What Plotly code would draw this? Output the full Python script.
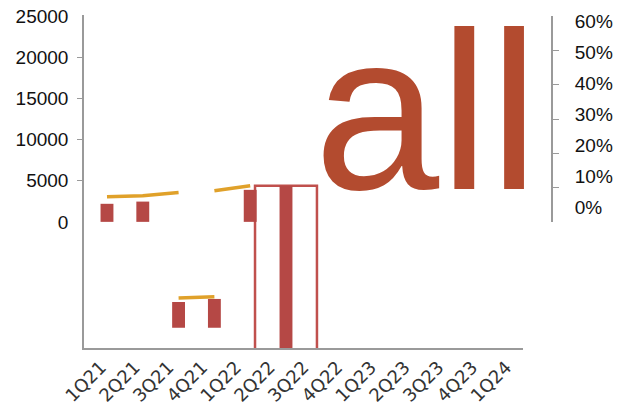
import plotly.graph_objects as go

quarters = ["1Q21", "2Q21", "3Q21", "4Q21", "1Q22", "2Q22", "3Q22", "4Q22",
            "1Q23", "2Q23", "3Q23", "4Q23", "1Q24"]

# floating bars: top and base values (left axis units)
bar_top = [2200, 2470, -9760, -9390, 3900, 4400, None, None, None, None, None, None, None]
bar_base = [0, 0, -12900, -12900, 0, -16000, None, None, None, None, None, None, None]

# outlined box behind 2Q22
box_top = [4400]
box_base = [-16000]
box_cat = ["2Q22"]

# orange line pieces (left axis units)
line_x = ["1Q21", "2Q21", "3Q21", None, "3Q21", "4Q21", None, "4Q21", "1Q22"]
line_y = [3050, 3170, 3580, None, -9270, -9110, None, 3780, 4390]

left_ticks = [0, 5000, 10000, 15000, 20000, 25000]
left_labels = ["0", "5000", "10000", "15000", "20000", "25000"]
left_marks = [5000, 10000, 15000, 20000]
right_ticks = [0, 0.1, 0.2, 0.3, 0.4, 0.5, 0.6]
right_labels = ["0%", "10%", "20%", "30%", "40%", "50%", "60%"]
right_marks = [0.1, 0.2, 0.3, 0.4, 0.5]

BAR = "#B54845"
BOX = "#C0504D"
ORANGE = "#E0A12A"
TEXT = "#B34B2F"
AX = "#9a9a9a"

bar_len = [None if t is None else t - b for t, b in zip(bar_top, bar_base)]
box_len = [t - b for t, b in zip(box_top, box_base)]

fig = go.Figure()
fig.add_trace(go.Bar(x=box_cat, y=box_len, base=box_base, xaxis="x2", yaxis="y",
                     width=1.73, marker=dict(color="white", line=dict(color=BOX, width=2.5)),
                     showlegend=False, hoverinfo="skip"))
fig.add_trace(go.Bar(x=quarters, y=bar_len, base=bar_base, xaxis="x2", yaxis="y",
                     width=0.36, marker=dict(color=BAR, line=dict(width=0)),
                     showlegend=False))
fig.add_trace(go.Scatter(x=line_x, y=line_y, xaxis="x2", yaxis="y", mode="lines",
                         line=dict(color=ORANGE, width=3.5), connectgaps=False,
                         showlegend=False))
# axis-only traces
fig.add_trace(go.Scatter(x=quarters, y=[None]*len(quarters), xaxis="x", yaxis="y",
                         showlegend=False, hoverinfo="skip"))
fig.add_trace(go.Scatter(x=["1Q21"], y=[None], xaxis="x", yaxis="y2", showlegend=False))
fig.add_trace(go.Scatter(x=["1Q21"], y=[None], xaxis="x", yaxis="y3", showlegend=False))
fig.add_trace(go.Scatter(x=["1Q21"], y=[None], xaxis="x", yaxis="y4", showlegend=False))

W = 623 - 84 - 71
H = 333

fig.update_layout(
    width=623, height=408,
    margin=dict(l=84, r=71, t=15, b=60, autoexpand=False),
    paper_bgcolor="white", plot_bgcolor="rgba(0,0,0,0)",
    barmode="overlay",
    xaxis=dict(domain=[0, (523 - 84) / W], type="category", categoryorder="array",
               categoryarray=quarters, range=[-0.5, 12.5],
               showline=True, linecolor=AX, linewidth=1.5, ticks="", tickangle=-45,
               tickfont=dict(family="DejaVu Sans", size=18, color="#333"),
               showgrid=False, zeroline=False, automargin=False, anchor="y"),
    xaxis2=dict(domain=[0, 1], type="category", categoryorder="array",
                categoryarray=quarters, range=[-0.642, 12.43],
                visible=False, anchor="y"),
    yaxis=dict(domain=[0, 1], range=[-15366, 25200], tickvals=left_ticks,
               ticktext=left_labels,
               showline=True, linecolor=AX, linewidth=1.5,
               ticks="outside", ticklen=6, tickcolor="rgba(0,0,0,0)", ticklabelstandoff=4,
               tickfont=dict(family="Liberation Sans, Arial", size=19, color="#111"),
               showgrid=False, zeroline=False, automargin=False, anchor="x"),
    yaxis4=dict(overlaying="y", range=[-15366, 25200], tickvals=left_marks,
                showticklabels=False, showline=False,
                ticks="outside", ticklen=6, tickcolor=AX, tickwidth=1.2,
                showgrid=False, zeroline=False, anchor="x", side="left"),
    yaxis2=dict(domain=[(348 - 222) / H, (348 - 16) / H], range=[0, 0.6],
                side="right", anchor="free", position=1,
                tickvals=right_marks, showticklabels=False,
                showline=True, linecolor=AX, linewidth=1.5,
                ticks="outside", ticklen=6, tickcolor=AX,
                showgrid=False, zeroline=False, automargin=False),
    yaxis3=dict(domain=[(348 - 208) / H, (348 - 21) / H], range=[-0.0005, 0.6005],
                side="right", anchor="free", position=1,
                tickvals=right_ticks, ticktext=right_labels,
                showline=False, ticks="outside", ticklen=18,
                tickcolor="rgba(0,0,0,0)",
                tickfont=dict(family="Liberation Sans, Arial", size=19, color="#111"),
                showgrid=False, zeroline=False, automargin=False),
    annotations=[dict(text="all", xref="paper", yref="paper",
                      x=(426 - 84) / W, y=(348 - 239) / H,
                      xanchor="center", yanchor="bottom", showarrow=False,
                      font=dict(family="Liberation Sans, Arial", size=225, color=TEXT))],
)

fig.write_html("out.html")
